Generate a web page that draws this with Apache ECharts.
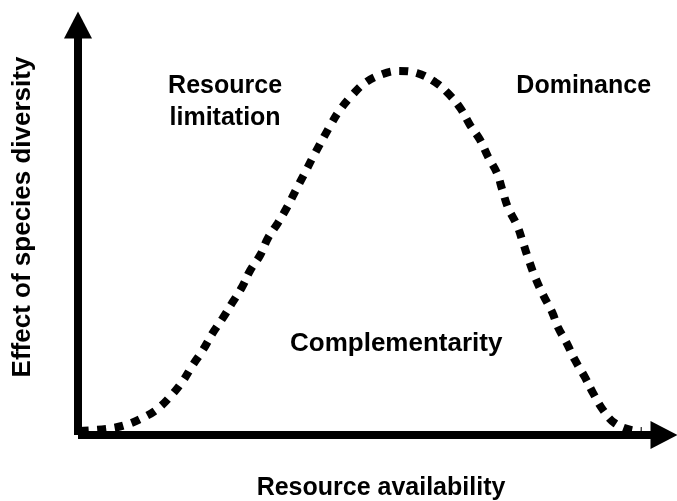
<!DOCTYPE html>
<html>
<head>
<meta charset="utf-8">
<title>Effect of species diversity vs resource availability</title>
<script src="https://cdn.jsdelivr.net/npm/echarts@6/dist/echarts.min.js"></script>
<style>
  html, body { margin: 0; padding: 0; background: #fff; }
  #chart { width: 677px; height: 501px; }
</style>
</head>
<body>
<div id="chart"></div>
<script>
// resource availability (x, 0-100) and effect of diversity (y, 0-100)
var resource = [0.3, 4.9, 8.0, 10.9, 13.5, 16.0, 17.9, 19.6, 21.3, 23.0, 24.7, 26.3, 28.0, 29.4,
  31.1, 32.4, 34.1, 35.7, 37.2, 38.7, 40.1, 43.3, 44.7, 46.8, 49.0, 51.9, 54.8, 57.8, 60.9,
  63.1, 65.2, 66.9, 68.6, 70.0, 71.5, 72.4, 73.4, 74.9, 75.9, 76.8, 78.0, 79.4, 80.9, 81.9,
  83.4, 84.8, 86.5, 87.9, 89.6, 91.6, 94.5, 96.2];
var effect = [1.0, 1.5, 2.4, 4.1, 6.3, 9.8, 13.2, 17.1, 20.7, 24.9, 28.5, 32.2, 36.1, 40.2,
  43.9, 48.0, 51.7, 55.6, 59.8, 63.9, 67.8, 76.1, 79.3, 82.9, 85.9, 88.0, 88.8, 88.3, 86.1,
  83.4, 79.8, 75.6, 72.0, 67.8, 63.9, 59.8, 55.4, 51.2, 47.1, 43.2, 38.5, 34.1, 30.0, 26.3,
  22.4, 18.3, 14.1, 10.2, 6.1, 2.9, 1.2, 1.0];

// region labels: [x, y, text] (centre of each label)
var regionLabels = [
  [25.1, 81.2, 'Resource\nlimitation'],
  [86.3, 85.1, 'Dominance'],
  [54.3, 22.2, 'Complementarity']
];
var regionFontSizes = [25, 25, 26];

var curve = [];
for (var i = 0; i < resource.length; i++) {
  curve.push([resource[i], effect[i]]);
}

var labelItems = regionLabels.map(function (d, i) {
  return { value: d, label: { fontSize: regionFontSizes[i] } };
});

var font = '"Liberation Sans", Arial, Helvetica, sans-serif';
function axisArrow() {
  return {
    show: true,
    symbol: ['none', 'triangle'],
    symbolSize: [28, 27],
    lineStyle: { color: '#000', width: 8, cap: 'butt' }
  };
}

var chart = echarts.init(document.getElementById('chart'));
chart.setOption({
  animation: false,
  backgroundColor: '#fff',
  // fixed plot box; keep v6 from shrinking it to fit the axis names
  grid: { left: 78, right: 13, top: 25, bottom: 66, outerBoundsMode: 'none', containLabel: false },
  xAxis: {
    type: 'value',
    min: 0,
    max: 100,
    name: 'Resource availability',
    nameLocation: 'middle',
    nameGap: 41,
    nameTextStyle: {
      fontFamily: font, fontWeight: 'bold', fontSize: 25, color: '#000',
      padding: [0, 0, 0, 20]
    },
    axisLine: axisArrow(),
    axisTick: { show: false },
    axisLabel: { show: false },
    splitLine: { show: false }
  },
  yAxis: {
    type: 'value',
    min: 0,
    max: 100,
    name: 'Effect of species diversity',
    nameLocation: 'middle',
    nameGap: 42,
    nameTextStyle: {
      fontFamily: font, fontWeight: 'bold', fontSize: 26, color: '#000',
      padding: [0, 0, 0, 26]
    },
    axisLine: axisArrow(),
    axisTick: { show: false },
    axisLabel: { show: false },
    splitLine: { show: false }
  },
  series: [
    {
      type: 'line',
      data: curve,
      smooth: 0.4,
      showSymbol: false,
      clip: false,
      lineStyle: { color: '#000', width: 8, type: [9, 8.5], cap: 'butt' },
      z: 5
    },
    {
      type: 'scatter',
      data: labelItems,
      symbolSize: 0,
      silent: true,
      itemStyle: { opacity: 1 },
      label: {
        show: true,
        position: 'inside',
        formatter: function (p) { return p.value[2]; },
        fontFamily: font,
        fontWeight: 'bold',
        fontSize: 25,
        lineHeight: 32,
        color: '#000',
        opacity: 1
      }
    }
  ]
});
</script>
</body>
</html>
